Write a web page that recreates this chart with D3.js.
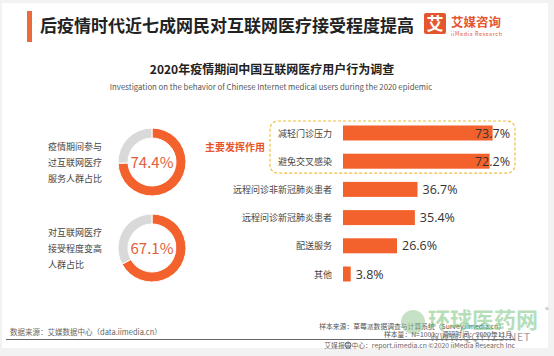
<!DOCTYPE html>
<html><head><meta charset="utf-8">
<script src="https://cdn.jsdelivr.net/npm/d3@7/dist/d3.min.js"></script>
<style>
html,body{margin:0;padding:0;background:#f2f2f2;}
svg{display:block;font-family:"Noto Sans CJK SC","Noto Sans",sans-serif;}
</style></head>
<body><svg id="c" width="554" height="356"></svg>
<script>
const categories = ["减轻门诊压力","避免交叉感染","远程问诊非新冠肺炎患者","远程问诊新冠肺炎患者","配送服务","其他"];
const values = [73.7, 72.2, 36.7, 35.4, 26.6, 3.8];
const donutLabels = [["疫情期间参与","过互联网医疗","服务人群占比"],["对互联网医疗","接受程度变高","人群占比"]];
const donutValues = [74.4, 67.1];

const svg = d3.select("#c");
const orange = "#f3622d";
svg.append("rect").attr("x",2).attr("y",3).attr("width",546).attr("height",345).attr("fill","#fff");

// header
svg.append("rect").attr("x",27).attr("y",11).attr("width",5).attr("height",31).attr("fill","#ea6a3e");
svg.append("text").attr("x",40).attr("y",32).attr("font-size",17).attr("font-weight","bold").attr("fill","#222")
  .text("后疫情时代近七成网民对互联网医疗接受程度提高");
svg.append("rect").attr("x",424).attr("y",13).attr("width",22).attr("height",21).attr("rx",2).attr("fill","#e5562f");
svg.append("text").attr("x",435).attr("y",30).attr("text-anchor","middle").attr("font-size",17).attr("font-weight","bold").attr("fill","#fff").text("艾");
svg.append("text").attr("x",451).attr("y",27).attr("font-size",12.5).attr("font-weight","bold").attr("fill","#e5562f").text("艾媒咨询");
svg.append("text").attr("x",451).attr("y",36).attr("font-size",5.5).attr("fill","#e5562f").attr("textLength",51).text("iiMedia Research");

// subtitle
svg.append("text").attr("x",272).attr("y",74).attr("text-anchor","middle").attr("font-size",12).attr("font-weight","bold").attr("fill","#222")
  .text("2020年疫情期间中国互联网医疗用户行为调查");
svg.append("text").attr("x",271).attr("y",90).attr("text-anchor","middle").attr("font-size",7.8).attr("fill","#555")
  .text("Investigation on the behavior of Chinese Internet medical users during the 2020 epidemic");

// donuts
const donutCy = [162, 248];
const arc = d3.arc().innerRadius(24).outerRadius(34);
const pie = d3.pie().sort(null).value(d=>d);
donutValues.forEach((v,i)=>{
  const g = svg.append("g").attr("transform",`translate(152,${donutCy[i]})`);
  g.selectAll("path").data(pie([v,100-v])).join("path").attr("d",arc)
    .attr("fill",(d,j)=>j===0?orange:"#d9d9d9").attr("stroke","#fff").attr("stroke-width",1);
  g.append("text").attr("text-anchor","middle").attr("y",5.5).attr("font-size",15).attr("fill","#e0603a").text(v.toFixed(1)+"%");
  const lt = svg.append("text").attr("font-size",9).attr("fill","#444");
  donutLabels[i].forEach((s,k)=>{
    lt.append("tspan").attr("x",48).attr("y",donutCy[i]-12+k*16).text(s);
  });
});

// bars
const x = d3.scaleLinear().domain([0,100]).range([343,546]);
const y = d3.scalePoint().domain(categories).range([133,274]);
const bh = 15;
svg.append("rect").attr("x",270).attr("y",y(categories[0])-12).attr("width",245).attr("height",y(categories[1])-y(categories[0])+24)
  .attr("rx",8).attr("fill","none").attr("stroke","#f2bd3a").attr("stroke-width",1.2).attr("stroke-dasharray","3,2");
svg.append("text").attr("x",205).attr("y",(y(categories[0])+y(categories[1]))/2+4).attr("font-size",10).attr("font-weight","bold").attr("fill","#e8552d").text("主要发挥作用");

svg.selectAll("rect.bar").data(values).join("rect").attr("class","bar")
  .attr("x",x(0)).attr("y",(d,i)=>y(categories[i])-bh/2).attr("width",d=>x(d)-x(0)).attr("height",bh).attr("fill",orange);
svg.selectAll("text.cat").data(categories).join("text").attr("class","cat")
  .attr("x",332).attr("y",d=>y(d)+3.5).attr("text-anchor","end").attr("font-size",9).attr("fill","#444").text(d=>d);
svg.selectAll("text.val").data(values).join("text").attr("class","val")
  .attr("x",d=>x(d)+40>512?510:x(d)+5).attr("text-anchor",d=>x(d)+40>512?"end":"start")
  .attr("y",(d,i)=>y(categories[i])+4.5).attr("font-size",12.5).attr("fill","#333").attr("font-family","Open Sans, sans-serif")
  .text(d=>d.toFixed(1)+"%");

// footer
svg.append("line").attr("x1",6).attr("x2",515).attr("y1",339.5).attr("y2",339.5).attr("stroke","#666").attr("stroke-width",1);
svg.append("text").attr("x",10).attr("y",335).attr("font-size",7.5).attr("fill","#666").text("数据来源：艾媒数据中心（data.iimedia.cn）");
svg.append("text").attr("x",505).attr("y",329).attr("text-anchor","end").attr("font-size",6.8).attr("fill","#555").text("样本来源：草莓派数据调查与计算系统（Survey.iimedia.cn）");
svg.append("circle").attr("cx",348).attr("cy",345).attr("r",3).attr("fill","none").attr("stroke","#777");
svg.append("text").attr("x",515).attr("y",348).attr("text-anchor","end").attr("font-size",6.8).attr("fill","#666").text("艾媒报告中心：report.iimedia.cn   ©2020  iiMedia Research  Inc");

// watermark
svg.append("circle").attr("cx",413).attr("cy",322).attr("r",12).attr("fill","#8fc48f").attr("opacity",0.5);
svg.append("text").attr("x",428).attr("y",328).attr("font-size",22).attr("font-weight","bold").attr("fill","#6fbf73").attr("opacity",0.5).text("环球医药网");
svg.append("text").attr("x",545).attr("y",313).attr("font-size",8).attr("fill","#aaa").text("®");
svg.append("text").attr("x",512).attr("y",337).attr("text-anchor","end").attr("font-size",6.8).attr("fill","#555").text("样本量：N=1001；调研时间：2020年11月");
svg.append("text").attr("x",430).attr("y",341).attr("font-size",10.5).attr("fill","#777").attr("opacity",0.75).attr("textLength",100).text("WWW.QQYYZS.NET");
</script></body></html>
